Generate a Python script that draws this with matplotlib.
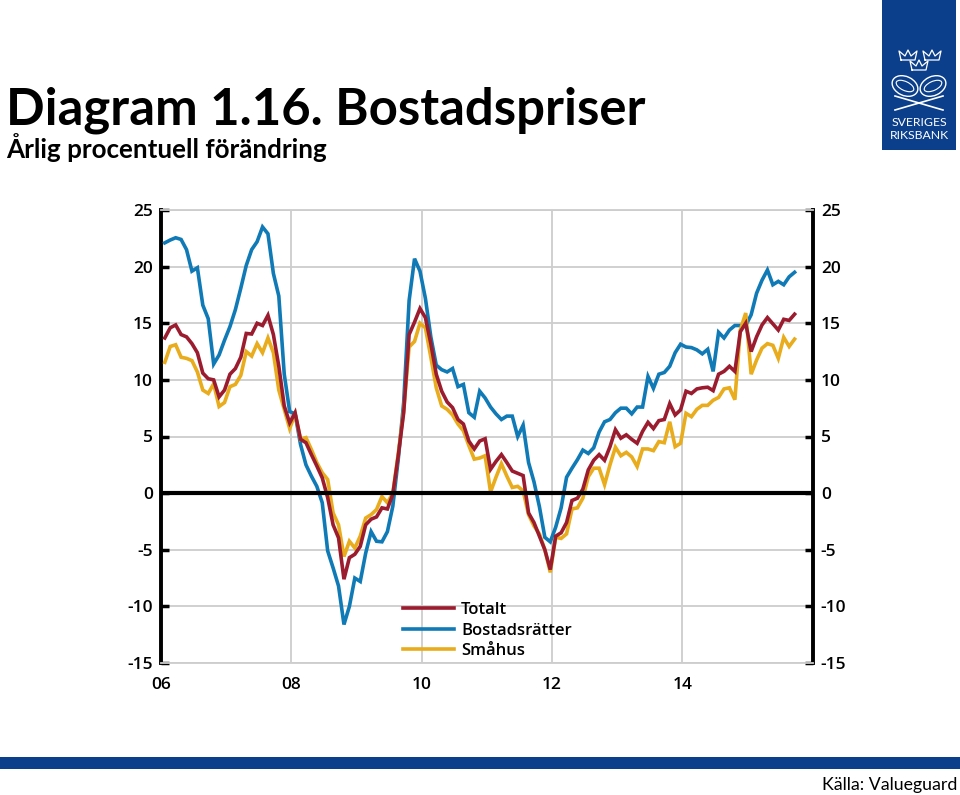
import numpy as np
import matplotlib
matplotlib.use('Agg')
import matplotlib.pyplot as plt
from matplotlib.patches import Rectangle, Ellipse

plt.rcParams['font.family'] = ['Open Sans', 'DejaVu Sans']
plt.rcParams['axes.unicode_minus'] = False

# monthly values, Jan 2006 - Sep 2015
totalt = [13.7, 14.6, 14.85, 14.0, 13.8, 13.2, 12.4, 10.6, 10.1, 10.0, 8.5, 9.1,
          10.5, 11.0, 12.0, 14.1, 14.05, 15.0, 14.8, 15.7, 14.0, 11.2, 7.7, 6.2,
          7.1, 4.75, 4.45, 3.4, 2.4, 1.35, -0.4, -2.8, -3.95, -7.6, -5.7, -5.4,
          -4.7, -2.8, -2.3, -2.1, -1.3, -1.4, -0.1, 3.3, 7.1, 14.0, 15.1, 16.3,
          15.5, 13.2, 10.5, 9.0, 8.05, 7.55, 6.5, 6.1, 4.6, 3.9, 4.6, 4.8,
          2.1, 2.8, 3.4, 2.7, 1.95, 1.75, 1.55, -1.75, -2.6, -3.8, -5.0, -6.75,
          -3.8, -3.5, -2.6, -0.65, -0.45, 0.35, 2.05, 2.9, 3.4, 2.9, 4.1, 5.6,
          4.85, 5.15, 4.75, 4.4, 5.45, 6.25, 5.7, 6.4, 6.5, 7.9, 6.9, 7.35,
          9.0, 8.8, 9.2, 9.3, 9.35, 9.05, 10.5, 10.75, 11.2, 10.75, 14.25, 15.0,
          12.5, 13.8, 14.85, 15.5, 14.95, 14.4, 15.35, 15.25, 15.8]
bostadsratter = [22.1, 22.35, 22.55, 22.4, 21.5, 19.6, 19.9, 16.6, 15.4, 11.4, 12.2, 13.5,
                 14.7, 16.2, 18.1, 20.1, 21.5, 22.2, 23.5, 22.9, 19.4, 17.4, 10.5, 7.2,
                 7.0, 4.3, 2.5, 1.5, 0.6, -0.85, -5.1, -6.6, -8.2, -11.6, -10.0, -7.5,
                 -7.8, -5.3, -3.4, -4.25, -4.3, -3.4, -1.15, 3.0, 8.0, 17.0, 20.7, 19.6,
                 17.2, 13.8, 11.3, 10.9, 10.7, 11.0, 9.4, 9.6, 7.1, 6.7, 9.0, 8.4,
                 7.6, 7.0, 6.5, 6.8, 6.8, 5.0, 6.0, 2.7, 1.0, -1.2, -3.9, -4.3,
                 -3.0, -1.3, 1.4, 2.2, 2.95, 3.8, 3.5, 4.0, 5.4, 6.3, 6.5, 7.1,
                 7.5, 7.5, 7.0, 7.6, 7.6, 10.3, 9.25, 10.5, 10.65, 11.2, 12.4, 13.15,
                 12.9, 12.85, 12.65, 12.3, 12.7, 10.75, 14.2, 13.7, 14.4, 14.8, 14.8, 14.8,
                 15.75, 17.65, 18.8, 19.7, 18.4, 18.7, 18.4, 19.1, 19.5]
smahus = [11.55, 12.95, 13.1, 12.0, 11.9, 11.7, 10.7, 9.1, 8.8, 9.65, 7.65, 8.0,
          9.4, 9.6, 10.4, 12.5, 12.1, 13.2, 12.4, 13.7, 12.4, 9.1, 7.4, 5.7,
          7.0, 4.75, 4.9, 3.85, 2.7, 1.8, 1.2, -1.75, -2.8, -5.6, -4.25, -4.85,
          -3.8, -2.2, -1.9, -1.45, -0.3, -0.85, 0.0, 3.5, 7.3, 12.9, 13.4, 15.0,
          14.6, 12.0, 9.3, 7.7, 7.4, 6.9, 6.1, 5.5, 4.2, 3.0, 3.1, 3.3,
          0.1, 1.4, 2.6, 1.5, 0.5, 0.6, 0.2, -1.9, -2.9, -3.6, -5.0, -7.0,
          -3.9, -4.0, -3.6, -1.4, -1.3, -0.45, 1.45, 2.2, 2.2, 0.75, 2.5, 4.05,
          3.3, 3.6, 3.2, 2.35, 3.9, 3.9, 3.75, 4.55, 4.45, 6.3, 4.1, 4.4,
          7.05, 6.75, 7.4, 7.75, 7.75, 8.2, 8.45, 9.2, 9.3, 8.25, 14.4, 15.9,
          10.5, 11.75, 12.8, 13.2, 13.05, 11.9, 13.75, 12.95, 13.6]
xticks = [6, 8, 10, 12, 14]
xticklabels = ['06', '08', '10', '12', '14']
yticks = [-15, -10, -5, 0, 5, 10, 15, 20, 25]

RED = '#9b1c2e'
BLUE = '#0f7ab5'
YELLOW = '#e8ac1c'
NAVY = '#0b3f8c'
GRID = '#cdcdcd'
W, H = 960, 795

fig = plt.figure(figsize=(W / 100, H / 100), dpi=100)
ax = fig.add_axes([161 / W, 1 - 663 / H, (812.5 - 161) / W, (663 - 210) / H])

x = 6 + (np.arange(len(totalt)) + 0.7) / 12
ax.plot(x, bostadsratter, color=BLUE, lw=2.6, zorder=3, label='Bostadsrätter', solid_joinstyle='miter')
ax.plot(x, smahus, color=YELLOW, lw=2.6, zorder=4, label='Småhus', solid_joinstyle='miter')
ax.plot(x, totalt, color=RED, lw=2.6, zorder=5, label='Totalt', solid_joinstyle='miter')
ax.axhline(0, color='black', lw=3, zorder=6)

ax.set_xlim(6, 16)
ax.set_ylim(-15, 25)
ax.set_xticks(xticks)
ax.set_xticklabels(xticklabels)
ax.set_yticks(yticks)
ax.grid(True, color=GRID, lw=1.3)
ax.set_axisbelow(True)
ax.tick_params(axis='x', length=0, pad=10, labelsize=12.5)
ax.tick_params(axis='y', direction='in', length=6, width=2.5, pad=6, labelsize=12.5,
               left=True, right=True, labelleft=True, labelright=True)
for lab in ax.get_xticklabels() + ax.get_yticklabels():
    lab.set_fontweight('semibold')
for s in ['left', 'right']:
    ax.spines[s].set_linewidth(2.8)
for s in ['top', 'bottom']:
    ax.spines[s].set_color(GRID)
    ax.spines[s].set_linewidth(1.3)

h, l = ax.get_legend_handles_labels()
order = [2, 0, 1]
leg = ax.legend([h[i] for i in order], [l[i] for i in order], loc='lower left',
                bbox_to_anchor=(0.371, 0.009), frameon=False, fontsize=12,
                handlelength=3.05, handletextpad=0.45, labelspacing=0.26,
                borderpad=0, borderaxespad=0)
for t in leg.get_texts():
    t.set_fontweight('semibold')
leg.set_zorder(7)

# page furniture in pixel coordinates
bg = fig.add_axes([0, 0, 1, 1], zorder=-1)
bg.set_xlim(0, W)
bg.set_ylim(H, 0)
bg.axis('off')
bg.add_patch(Rectangle((0, 757), W, 12, color=NAVY, lw=0))
bg.add_patch(Rectangle((882, 0), 74, 150, color=NAVY, lw=0))
bg.text(6, 125, 'Diagram 1.16. Bostadspriser', fontsize=36.6, fontweight='bold', family='Lato', va='baseline')
bg.text(6, 158, 'Årlig procentuell förändring', fontsize=18.7, fontweight='bold', family='Lato', va='baseline')
bg.text(957, 790, 'Källa: Valueguard', fontsize=12.8, family='Lato', ha='right', va='baseline')
bg.text(919, 126, 'SVERIGES', color='white', fontsize=8.8, ha='center', va='baseline', family='Lato')
bg.text(919, 139, 'RIKSBANK', color='white', fontsize=8.8, ha='center', va='baseline', family='Lato')

# emblem
for cx, cy in [(908, 55), (932, 55), (919, 65)]:
    bg.plot([cx - 7, cx - 9, cx - 3, cx, cx + 3, cx + 9, cx + 7, cx - 7],
            [cy + 5, cy - 4, cy + 1, cy - 5, cy + 1, cy - 4, cy + 5, cy + 5], color='white', lw=0.9)
for cx, ang in [(905, 25), (933, -25)]:
    bg.add_patch(Ellipse((cx, 86), 27, 19, angle=ang, fc='none', ec='white', lw=1))
    bg.add_patch(Ellipse((cx, 86), 19, 9, angle=ang, fc='none', ec='white', lw=0.8))
bg.plot([895, 943], [110, 96], color='white', lw=1.2)
bg.plot([895, 943], [96, 110], color='white', lw=1.2)

fig.savefig('out.png', dpi=100)
